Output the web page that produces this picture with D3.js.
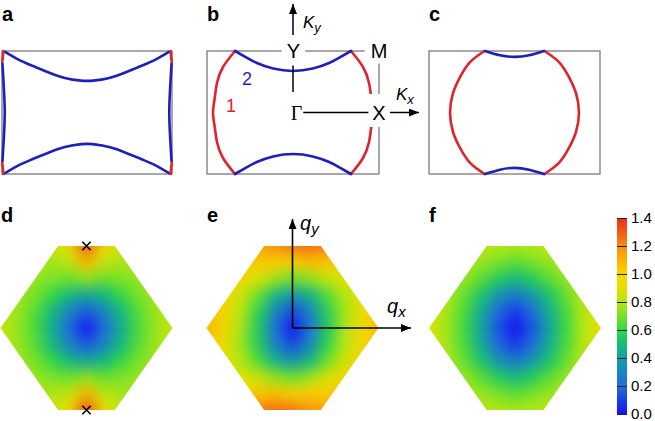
<!DOCTYPE html>
<html>
<head>
<meta charset="utf-8">
<script src="https://cdn.jsdelivr.net/npm/d3@7"></script>
<style>
  body { margin: 0; background: #fff; }
  svg { display: block; font-family: "Liberation Sans", Arial, sans-serif; }
</style>
</head>
<body>
<script>

// ---------------- data ----------------
// Fermi surface curves, k in units of pi  [kx, ky]
var aBlueTop    = [[-0.965,0.985],[-0.8,0.855],[-0.635,0.756],[-0.34,0.593],[-0.17,0.535],[0,0.515],[0.17,0.535],[0.34,0.593],[0.635,0.756],[0.8,0.855],[0.965,0.985]];
var aBlueBottom = [[-0.965,-0.985],[-0.8,-0.855],[-0.635,-0.756],[-0.34,-0.593],[-0.17,-0.535],[0,-0.51],[0.17,-0.535],[0.34,-0.593],[0.635,-0.756],[0.8,-0.855],[0.965,-0.985]];
var aBlueLeft   = [[-0.995,0.8],[-0.978,0.4],[-0.968,0],[-0.978,-0.4],[-0.995,-0.8]];
var aBlueRight  = [[0.995,0.8],[0.978,0.4],[0.968,0],[0.978,-0.4],[0.995,-0.8]];
var aRedTL = [[-0.985,1],[-0.99,0.9],[-0.998,0.82]];
var aRedTR = [[0.985,1],[0.99,0.9],[0.998,0.82]];
var aRedBL = [[-0.985,-1],[-0.99,-0.9],[-0.998,-0.82]];
var aRedBR = [[0.985,-1],[0.99,-0.9],[0.998,-0.82]];

var bRedLeft    = [[-0.674,1],[-0.814,0.74],[-0.884,0.48],[-0.91,0.24],[-0.93,0],[-0.91,-0.24],[-0.884,-0.48],[-0.814,-0.74],[-0.674,-1]];
var bRedRight   = [[0.674,1],[0.814,0.74],[0.884,0.48],[0.91,0.24],[0.93,0],[0.91,-0.24],[0.884,-0.48],[0.814,-0.74],[0.674,-1]];
var bBlueTop    = [[-0.674,1],[-0.55,0.9],[-0.42,0.805],[-0.23,0.715],[0,0.675],[0.23,0.715],[0.42,0.805],[0.55,0.9],[0.674,1]];
var bBlueBottom = [[-0.674,-1],[-0.55,-0.9],[-0.42,-0.805],[-0.23,-0.715],[0,-0.675],[0.23,-0.715],[0.42,-0.805],[0.55,-0.9],[0.674,-1]];

var cRedLeft    = [[-0.35,1],[-0.52,0.82],[-0.637,0.577],[-0.719,0.317],[-0.754,0],[-0.719,-0.317],[-0.637,-0.577],[-0.52,-0.82],[-0.35,-1]];
var cRedRight   = [[0.35,1],[0.52,0.82],[0.637,0.577],[0.719,0.317],[0.754,0],[0.719,-0.317],[0.637,-0.577],[0.52,-0.82],[0.35,-1]];
var cBlueTop    = [[-0.345,1],[-0.17,0.93],[0,0.905],[0.17,0.93],[0.345,1]];
var cBlueBottom = [[-0.345,-1],[-0.17,-0.93],[0,-0.9],[0.17,-0.93],[0.345,-1]];

// hexagonal zone (q normalised) and sampled values
var hexVertices = [[-1,0],[-0.33,1],[0.33,1],[1,0],[0.33,-1],[-0.33,-1]];
var qxGrid = [-1,-0.8,-0.6,-0.4,-0.2,0,0.2,0.4,0.6,0.8,1];
var qyGrid = [1,0.8,0.6,0.4,0.2,0,-0.2,-0.4,-0.6,-0.8,-1];

var gridD = [
  [0.82,0.82,0.82,0.84,0.92,1.30,0.94,0.86,0.82,0.82,0.82],
  [0.80,0.80,0.79,0.77,0.82,1.08,0.84,0.78,0.79,0.80,0.80],
  [0.80,0.78,0.75,0.71,0.68,0.74,0.68,0.71,0.75,0.78,0.80],
  [0.81,0.77,0.70,0.60,0.48,0.42,0.48,0.60,0.70,0.77,0.81],
  [0.83,0.76,0.65,0.48,0.28,0.16,0.28,0.48,0.65,0.76,0.83],
  [0.84,0.75,0.63,0.44,0.20,0.00,0.20,0.44,0.63,0.75,0.84],
  [0.83,0.76,0.65,0.48,0.28,0.16,0.28,0.48,0.65,0.76,0.83],
  [0.81,0.77,0.70,0.60,0.48,0.42,0.48,0.60,0.70,0.77,0.81],
  [0.80,0.78,0.75,0.71,0.68,0.74,0.68,0.71,0.75,0.78,0.80],
  [0.80,0.80,0.79,0.78,0.84,1.10,0.82,0.77,0.79,0.80,0.80],
  [0.82,0.82,0.82,0.86,0.94,1.32,0.92,0.84,0.82,0.82,0.82]
];
var gridE = [
  [1.14,1.14,1.14,1.14,1.18,1.24,1.26,1.22,1.18,1.18,1.18],
  [1.06,1.06,1.04,1.02,1.02,1.00,1.06,1.04,0.98,0.98,0.98],
  [1.04,1.02,0.97,0.88,0.76,0.68,0.74,0.84,0.89,0.91,0.93],
  [1.06,0.99,0.86,0.68,0.48,0.36,0.46,0.64,0.80,0.91,0.98],
  [1.08,0.97,0.80,0.58,0.30,0.12,0.28,0.56,0.76,0.93,1.02],
  [1.10,0.97,0.78,0.54,0.22,0.00,0.22,0.54,0.78,0.95,1.06],
  [1.02,0.93,0.76,0.56,0.28,0.12,0.30,0.58,0.80,0.97,1.04],
  [0.98,0.91,0.80,0.64,0.46,0.36,0.48,0.68,0.86,0.99,1.04],
  [0.93,0.91,0.89,0.84,0.74,0.68,0.76,0.88,0.97,1.02,1.04],
  [0.98,0.98,0.98,1.04,1.06,1.00,1.02,1.02,1.04,1.06,1.06],
  [1.18,1.18,1.18,1.22,1.26,1.24,1.18,1.14,1.14,1.14,1.14]
];
var gridF = [
  [0.82,0.82,0.82,0.82,0.80,0.78,0.80,0.82,0.82,0.82,0.82],
  [0.82,0.82,0.80,0.75,0.70,0.66,0.70,0.75,0.80,0.82,0.82],
  [0.84,0.81,0.75,0.66,0.55,0.48,0.55,0.66,0.75,0.82,0.84],
  [0.86,0.79,0.68,0.53,0.36,0.26,0.36,0.53,0.68,0.81,0.88],
  [0.88,0.78,0.64,0.44,0.20,0.08,0.20,0.44,0.64,0.81,0.90],
  [0.89,0.77,0.62,0.42,0.14,0.00,0.14,0.42,0.62,0.81,0.92],
  [0.88,0.78,0.64,0.44,0.20,0.08,0.20,0.44,0.64,0.81,0.90],
  [0.86,0.79,0.68,0.53,0.36,0.26,0.36,0.53,0.68,0.81,0.88],
  [0.84,0.81,0.75,0.66,0.55,0.48,0.55,0.66,0.75,0.82,0.84],
  [0.82,0.82,0.80,0.75,0.70,0.66,0.70,0.75,0.80,0.82,0.82],
  [0.82,0.82,0.82,0.82,0.80,0.78,0.80,0.82,0.82,0.82,0.82]
];

// colour map
var cmapValues = [0, 0.2, 0.4, 0.5, 0.6, 0.7, 0.8, 0.9, 1.0, 1.1, 1.2, 1.3, 1.4];
var cmapColors = ["#1414f0","#1e6ede","#14a0a0","#14be78","#32d746","#78e128","#b4e614","#e1e100","#fad200","#fab400","#f58c14","#f05a14","#eb2d1e"];
var cbarTicks  = [0, 0.2, 0.4, 0.6, 0.8, 1.0, 1.2, 1.4];
var cbarLabels = ["0.0","0.2","0.4","0.6","0.8","1.0","1.2","1.4"];

// ---------------- layout ----------------
var blue = "#1f1fbf", red = "#e0232d";
var svg = d3.select("body").append("svg").attr("width", 655).attr("height", 421);
var defs = svg.append("defs");

defs.append("marker").attr("id", "arrow")
  .attr("viewBox", "0 0 10 8").attr("refX", 10).attr("refY", 4)
  .attr("markerUnits", "userSpaceOnUse")
  .attr("markerWidth", 10).attr("markerHeight", 8).attr("orient", "auto")
  .append("path").attr("d", "M0,0L10,4L0,8z").attr("fill", "#000");

var blur = defs.append("filter").attr("id", "smooth")
  .attr("color-interpolation-filters", "sRGB");
blur.append("feGaussianBlur").attr("stdDeviation", 7);

var color = d3.scaleLinear().domain(cmapValues).range(cmapColors).clamp(true);

function panelLabel(txt, x, y) {
  svg.append("text").attr("x", x).attr("y", y).text(txt)
    .attr("font-size", 20).attr("font-weight", "bold");
}

// ---- top row: Fermi surfaces ----
var topY = d3.scaleLinear().domain([-1, 1]).range([174, 51]);

function drawFS(left, right, curves) {
  var x = d3.scaleLinear().domain([-1, 1]).range([left, right]);
  var g = svg.append("g");
  g.append("rect").attr("x", x(-1)).attr("y", topY(1))
    .attr("width", x(1) - x(-1)).attr("height", topY(-1) - topY(1))
    .attr("fill", "none").attr("stroke", "#7a7a7a").attr("stroke-width", 1.3);
  var line = d3.line().x(function (d) { return x(d[0]); }).y(function (d) { return topY(d[1]); })
    .curve(d3.curveNatural);
  curves.forEach(function (c) {
    g.append("path").attr("d", line(c.pts)).attr("fill", "none")
      .attr("stroke", c.col).attr("stroke-width", 2.6).attr("stroke-linecap", "round");
  });
  return x;
}

panelLabel("a", 2, 21);
drawFS(2, 172, [
  {pts: aBlueTop, col: blue}, {pts: aBlueBottom, col: blue},
  {pts: aBlueLeft, col: blue}, {pts: aBlueRight, col: blue},
  {pts: aRedTL, col: red}, {pts: aRedTR, col: red}, {pts: aRedBL, col: red}, {pts: aRedBR, col: red}
]);

panelLabel("b", 207, 21);
var bx = drawFS(207, 379, [
  {pts: bRedLeft, col: red}, {pts: bRedRight, col: red},
  {pts: bBlueTop, col: blue}, {pts: bBlueBottom, col: blue}
]);

panelLabel("c", 429, 21);
drawFS(429, 600, [
  {pts: cRedLeft, col: red}, {pts: cRedRight, col: red},
  {pts: cBlueTop, col: blue}, {pts: cBlueBottom, col: blue}
]);

// high-symmetry path in b
var gb = svg.append("g");
gb.append("line").attr("x1", bx(0)).attr("y1", topY(0)).attr("x2", bx(0)).attr("y2", topY(1))
  .attr("stroke", "#000").attr("stroke-width", 1.5);
gb.append("line").attr("x1", bx(0)).attr("y1", topY(0)).attr("x2", bx(1)).attr("y2", topY(0))
  .attr("stroke", "#000").attr("stroke-width", 1.5);

function boxedLabel(txt, cx, cy, pad, font) {
  var g = svg.append("g");
  var r = g.append("rect").attr("fill", "#fff");
  var t = g.append("text").attr("x", cx).attr("y", cy + 7.2).attr("text-anchor", "middle")
    .attr("font-size", 20).text(txt);
  if (font) t.attr("font-family", font);
  var w = t.node().getBBox().width;
  r.attr("x", cx - w / 2 - pad[0]).attr("y", cy - 7.5 - pad[2])
    .attr("width", w + pad[0] + pad[1]).attr("height", 15 + pad[2] + pad[3]);
}
boxedLabel("Y", bx(0) + 0.5, topY(1), [5, 5, 5, 7]);
boxedLabel("M", bx(1), topY(1), [6, 6, 5, 5]);
boxedLabel("X", bx(1), topY(0), [4, 5, 11, 7]);
boxedLabel("\u0393", bx(0) + 3.5, topY(0), [2, 1, 13, 3], "'Liberation Serif', 'Times New Roman', serif");

// K arrows
svg.append("line").attr("x1", bx(0)).attr("y1", 35).attr("x2", bx(0)).attr("y2", 4)
  .attr("stroke", "#000").attr("stroke-width", 1.5).attr("marker-end", "url(#arrow)");
svg.append("line").attr("x1", 390).attr("y1", topY(0)).attr("x2", 419).attr("y2", topY(0))
  .attr("stroke", "#000").attr("stroke-width", 1.5).attr("marker-end", "url(#arrow)");

var ky = svg.append("text").attr("x", 303).attr("y", 28).attr("font-size", 17).attr("font-style", "italic");
ky.append("tspan").text("K");
ky.append("tspan").attr("font-size", 13).attr("dy", 4).text("y");
var kx = svg.append("text").attr("x", 396).attr("y", 100).attr("font-size", 17).attr("font-style", "italic");
kx.append("tspan").text("K");
kx.append("tspan").attr("font-size", 13).attr("dy", 4).text("x");

svg.append("text").attr("x", 242).attr("y", 85).attr("font-size", 18).attr("fill", blue).text("2");
svg.append("text").attr("x", 226).attr("y", 112).attr("font-size", 18).attr("fill", red).text("1");

// ---- bottom row: hexagonal maps ----
var hexY = d3.scaleLinear().domain([-1, 1]).range([410, 246]);

function drawHeat(grid, cx, id) {
  var x = d3.scaleLinear().domain([-1, 1]).range([cx - 86, cx + 86]);
  var hexLine = d3.line().x(function (d) { return x(d[0]); }).y(function (d) { return hexY(d[1]); });
  defs.append("clipPath").attr("id", "hex-" + id)
    .append("path").attr("d", hexLine(hexVertices) + "Z");
  var cells = [];
  grid.forEach(function (row, j) {
    row.forEach(function (v, i) { cells.push({i: i, j: j, v: v}); });
  });
  var dx = Math.abs(x(qxGrid[1]) - x(qxGrid[0]));
  var dy = Math.abs(hexY(qyGrid[1]) - hexY(qyGrid[0]));
  var n = qxGrid.length - 1, m = qyGrid.length - 1, pad = 24;
  svg.append("g").attr("clip-path", "url(#hex-" + id + ")")
    .append("g").attr("filter", "url(#smooth)")
    .selectAll("rect").data(cells).join("rect")
    .attr("x", function (d) { return x(qxGrid[d.i]) - dx / 2 - (d.i === 0 ? pad : 0); })
    .attr("y", function (d) { return hexY(qyGrid[d.j]) - dy / 2 - (d.j === 0 ? pad : 0); })
    .attr("width", function (d) { return dx + 0.6 + ((d.i === 0 || d.i === n) ? pad : 0); })
    .attr("height", function (d) { return dy + 0.6 + ((d.j === 0 || d.j === m) ? pad : 0); })
    .attr("fill", function (d) { return color(d.v); });
  return x;
}

panelLabel("d", 1, 222);
var dx = drawHeat(gridD, 86.5, "d");
[1, -1].forEach(function (q) {
  var px = dx(0), py = hexY(q), s = 4.2;
  svg.append("path").attr("d", "M" + (px - s) + "," + (py - s) + "L" + (px + s) + "," + (py + s) +
    "M" + (px - s) + "," + (py + s) + "L" + (px + s) + "," + (py - s))
    .attr("stroke", "#000").attr("stroke-width", 1.6);
});

panelLabel("e", 207, 222);
var ex = drawHeat(gridE, 292.5, "e");
svg.append("line").attr("x1", ex(0)).attr("y1", hexY(0)).attr("x2", ex(0)).attr("y2", 219)
  .attr("stroke", "#000").attr("stroke-width", 1.6).attr("marker-end", "url(#arrow)");
svg.append("line").attr("x1", ex(0)).attr("y1", hexY(0)).attr("x2", 411).attr("y2", hexY(0))
  .attr("stroke", "#000").attr("stroke-width", 1.6).attr("marker-end", "url(#arrow)");
var qy = svg.append("text").attr("x", 300).attr("y", 230).attr("font-size", 20).attr("font-style", "italic");
qy.append("tspan").text("q");
qy.append("tspan").attr("font-size", 15).attr("dy", 4).text("y");
var qx = svg.append("text").attr("x", 387).attr("y", 313).attr("font-size", 20).attr("font-style", "italic");
qx.append("tspan").text("q");
qx.append("tspan").attr("font-size", 15).attr("dy", 4).text("x");

panelLabel("f", 429, 222);
drawHeat(gridF, 515, "f");

// ---- colour bar ----
var cbY = d3.scaleLinear().domain([0, 1.4]).range([414, 218]);
var grad = defs.append("linearGradient").attr("id", "cbar")
  .attr("x1", 0).attr("y1", 1).attr("x2", 0).attr("y2", 0);
grad.selectAll("stop").data(cmapValues).join("stop")
  .attr("offset", function (d) { return d / 1.4; })
  .attr("stop-color", function (d) { return color(d); });
svg.append("rect").attr("x", 617).attr("y", cbY(1.4)).attr("width", 10)
  .attr("height", cbY(0) - cbY(1.4)).attr("fill", "url(#cbar)");

var cbAxis = d3.axisRight(cbY).tickValues(cbarTicks)
  .tickFormat(function (d, i) { return cbarLabels[i]; })
  .tickSizeInner(10).tickSizeOuter(0).tickPadding(4);
var cbG = svg.append("g").attr("transform", "translate(617,0)").call(cbAxis);
cbG.select(".domain").remove();
cbG.selectAll(".tick line").attr("stroke", "#222").attr("stroke-width", 1);
cbG.selectAll(".tick text").attr("font-size", 15).attr("fill", "#000")
  .attr("font-family", "'Liberation Sans', Arial, sans-serif");

</script>
</body>
</html>
